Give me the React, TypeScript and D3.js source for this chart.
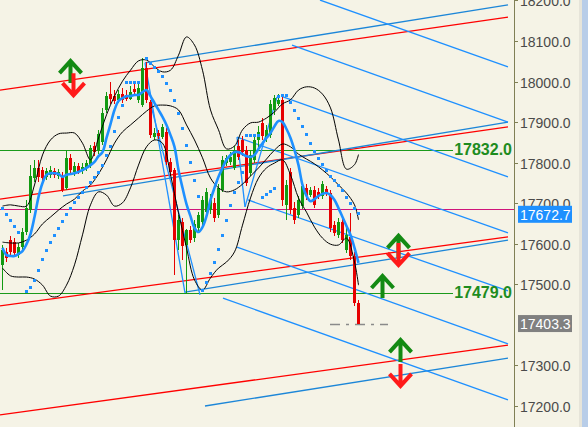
import * as d3 from 'd3'

// ---- data ----
// candles: open, high, low, close
const candles: [number, number, number, number][] = [
  [17548, 17597, 17486, 17585], [17580, 17590, 17555, 17565], [17609, 17619, 17570, 17580],
  [17604, 17614, 17567, 17577], [17572, 17602, 17565, 17592], [17592, 17639, 17585, 17629],
  [17629, 17708, 17622, 17688], [17683, 17794, 17676, 17767], [17762, 17807, 17752, 17787],
  [17787, 17807, 17752, 17765], [17782, 17789, 17752, 17762], [17765, 17787, 17757, 17779],
  [17770, 17792, 17762, 17782], [17779, 17787, 17762, 17770], [17767, 17784, 17760, 17777],
  [17767, 17777, 17728, 17733], [17738, 17831, 17733, 17812], [17812, 17821, 17770, 17782],
  [17777, 17802, 17767, 17792], [17792, 17799, 17772, 17779], [17779, 17799, 17772, 17789],
  [17787, 17807, 17779, 17799], [17794, 17844, 17787, 17836], [17841, 17851, 17816, 17826],
  [17831, 17881, 17821, 17871], [17851, 17935, 17844, 17922], [17930, 17974, 17922, 17964],
  [17969, 17999, 17945, 17957], [17964, 17979, 17945, 17952], [17955, 17979, 17947, 17969],
  [17969, 17984, 17947, 17955], [17967, 17979, 17952, 17957], [17957, 17989, 17955, 17974],
  [17982, 17994, 17967, 17974], [17955, 17994, 17947, 17984], [17942, 18058, 17937, 18033],
  [18033, 18048, 17947, 17955], [17950, 17955, 17861, 17868], [17863, 17885, 17856, 17873],
  [17873, 17881, 17858, 17866], [17863, 17895, 17858, 17888], [17876, 17885, 17794, 17802],
  [17802, 17812, 17767, 17777], [17782, 17787, 17523, 17609], [17609, 17671, 17585, 17659],
  [17654, 17664, 17560, 17595], [17597, 17636, 17479, 17634], [17634, 17644, 17602, 17609],
  [17614, 17659, 17604, 17649], [17639, 17678, 17629, 17671], [17654, 17718, 17644, 17708],
  [17678, 17738, 17669, 17728], [17683, 17723, 17673, 17708], [17701, 17713, 17654, 17664],
  [17671, 17747, 17664, 17738], [17733, 17816, 17728, 17807], [17799, 17819, 17792, 17812],
  [17802, 17826, 17794, 17814], [17787, 17841, 17782, 17831], [17841, 17856, 17807, 17814],
  [17856, 17866, 17816, 17826], [17831, 17841, 17742, 17750], [17775, 17831, 17767, 17819],
  [17807, 17866, 17799, 17856], [17856, 17890, 17836, 17876], [17898, 17910, 17856, 17866],
  [17861, 17893, 17851, 17881], [17868, 17955, 17861, 17945], [17930, 17967, 17918, 17959],
  [17945, 17969, 17940, 17955], [17955, 17964, 17693, 17708], [17696, 17757, 17659, 17745],
  [17777, 17787, 17673, 17683], [17688, 17703, 17649, 17659], [17671, 17718, 17664, 17708],
  [17693, 17750, 17686, 17742], [17738, 17747, 17708, 17718], [17720, 17740, 17715, 17733],
  [17733, 17743, 17688, 17696], [17728, 17738, 17710, 17718], [17718, 17755, 17710, 17747],
  [17735, 17743, 17718, 17723], [17725, 17733, 17629, 17639], [17646, 17656, 17619, 17627],
  [17622, 17664, 17614, 17654], [17654, 17664, 17602, 17609], [17585, 17639, 17577, 17622],
  [17617, 17676, 17560, 17570], [17570, 17580, 17447, 17454], [17454, 17461, 17403, 17403.3],
]

// moving average, one value per bar
const maValues = [
  17590, 17572, 17570, 17570, 17575, 17582, 17599, 17624, 17666, 17715,
  17750, 17770, 17774, 17774, 17772, 17765, 17770, 17772, 17774, 17777,
  17782, 17787, 17794, 17802, 17816, 17826, 17861, 17895, 17930, 17952,
  17959, 17964, 17964, 17967, 17967, 17974, 17979, 17964, 17947, 17930,
  17913, 17893, 17868, 17839, 17782, 17738, 17698, 17668, 17639, 17629,
  17641, 17668, 17708, 17738, 17765, 17787, 17807, 17819, 17826, 17826,
  17821, 17816, 17814, 17819, 17834, 17848, 17861, 17873, 17890, 17903,
  17900, 17883, 17861, 17831, 17794, 17745, 17718, 17705, 17710, 17718,
  17723, 17725, 17720, 17708, 17688, 17666, 17644, 17622, 17590, 17553,
]

// bollinger bands, [bar, price]
const bandUpper: [number, number][] = [
  [0, 17693], [2, 17696], [4, 17693], [6, 17693], [8, 17745], [10, 17819], [12, 17856], [14, 17871],
  [16, 17873], [18, 17873], [20, 17848], [22, 17807], [24, 17861], [26, 17918], [28, 17964], [30, 18001],
  [32, 18028], [34, 18051], [36, 18053], [38, 18036], [40, 18024], [42, 18028], [44, 18065], [46, 18110],
  [48, 18090], [50, 18028], [52, 17930], [54, 17881], [56, 17834], [58, 17841], [60, 17881], [62, 17898],
  [64, 17900], [66, 17910], [68, 17925], [70, 17945], [72, 17955], [74, 17979], [76, 17987], [78, 17984],
  [80, 17969], [82, 17935], [84, 17856], [86, 17784], [88, 17795], [89, 17820],
]
const bandMiddle: [number, number][] = [
  [0, 17604], [2, 17602], [4, 17602], [6, 17609], [8, 17624], [10, 17649], [12, 17666], [14, 17683],
  [16, 17698], [18, 17710], [20, 17730], [22, 17745], [24, 17772], [26, 17807], [28, 17848], [30, 17876],
  [32, 17893], [34, 17910], [36, 17927], [38, 17940], [40, 17942], [42, 17940], [44, 17930], [46, 17893],
  [48, 17856], [50, 17812], [52, 17762], [54, 17738], [56, 17728], [58, 17733], [60, 17747], [62, 17767],
  [64, 17787], [66, 17809], [68, 17831], [70, 17846], [72, 17839], [74, 17821], [76, 17809], [78, 17797],
  [80, 17782], [82, 17765], [84, 17745], [86, 17725], [88, 17696], [89, 17659],
]
const bandLower: [number, number][] = [
  [0, 17540], [2, 17521], [4, 17518], [6, 17518], [8, 17513], [10, 17498], [12, 17471], [14, 17471],
  [16, 17498], [18, 17548], [20, 17622], [22, 17696], [24, 17728], [26, 17720], [28, 17693], [30, 17701],
  [32, 17738], [34, 17794], [36, 17839], [38, 17856], [40, 17848], [42, 17770], [44, 17676], [46, 17590],
  [48, 17511], [50, 17486], [52, 17516], [54, 17540], [56, 17555], [58, 17580], [60, 17646], [62, 17713],
  [64, 17762], [66, 17787], [68, 17799], [70, 17807], [72, 17770], [74, 17713], [76, 17678], [78, 17641],
  [80, 17614], [82, 17599], [84, 17597], [86, 17614], [88, 17555], [89, 17498],
]

// parabolic SAR dots, [bar, price]
const sarDots: [number, number][] = [
  [0, 17688], [1, 17673], [2, 17659], [3, 17644], [4, 17629],
  [6, 17484], [7, 17493], [8, 17511], [9, 17535], [10, 17562], [11, 17585], [12, 17604], [13, 17622],
  [14, 17639], [15, 17656], [16, 17673], [17, 17688], [18, 17703], [19, 17715], [20, 17728], [21, 17740],
  [22, 17753], [23, 17765], [24, 17777], [25, 17794], [26, 17819], [27, 17841], [28, 17878], [29, 17913],
  [30, 17942], [31, 17999], [32, 17999], [33, 17999], [34, 17999],
  [36, 18058], [37, 18046], [38, 18036], [39, 18026], [40, 18014], [41, 17996], [42, 17979], [43, 17955],
  [44, 17922], [45, 17885], [46, 17844], [47, 17802], [48, 17757], [49, 17718],
  [50, 17486], [51, 17506], [52, 17528], [53, 17555], [54, 17587], [55, 17622], [56, 17659], [57, 17696],
  [58, 17728], [59, 17752], [60, 17777], [61, 17868], [62, 17868], [63, 17868], [64, 17868],
  [65, 17715], [66, 17723], [67, 17730], [68, 17737], [69, 17964], [70, 17967], [71, 17967],
  [72, 17950], [73, 17930], [74, 17910], [75, 17890], [76, 17871], [77, 17849], [78, 17829], [79, 17811],
  [80, 17797], [81, 17782], [82, 17767], [83, 17757], [84, 17745], [85, 17733], [86, 17715], [87, 17701],
  [88, 17688], [89, 17676],
]

// trend lines: bar1, price1, bar2, price2
const redChannel = [
  [-0.5, 17979, 126.5, 18159], [-0.5, 17710, 126.5, 17888],
  [-0.5, 17447, 126.5, 17617], [-0.5, 17178, 126.5, 17350],
]
const blueChannel = [
  [35.75, 18046, 126.5, 18189], [15.25, 17718, 126.5, 17900],
  [45.75, 17481, 126.5, 17609], [50.75, 17200, 126.5, 17318],
]
const blueFan = [
  [79.5, 18201, 126.5, 18036], [72.5, 18090, 126.5, 17900], [70.25, 17962, 126.5, 17765],
  [58.75, 17863, 126.5, 17627], [61.5, 17708, 126.5, 17484], [58.75, 17592, 126.5, 17353],
  [55.25, 17466, 126.5, 17215],
]
const zigzag = [
  [35.75, 18046, 45.75, 17479], [37, 17950, 49.5, 17474],
  [58.75, 17863, 60.75, 17691], [60.75, 17691, 68.75, 17962],
]

const levelLines = [17832, 17479]
const pinkLevel = 17686
const bidPrice = 17672.7
const lastPrice = 17403.3
// 17400.0 sits fully under the last-price box in the chart, so it is not listed
const priceTicks = [17200, 17300, 17500, 17600, 17700, 17800, 17900, 18000, 18100, 18200]

const upArrows: [number, number][] = [[17, 18058], [99, 17627], [95, 17528], [99.5, 17370]]
const downArrows: [number, number][] = [[17.75, 17959], [99, 17540], [99.5, 17242]]

// ---- layout ----
const W = 588
const H = 427
const AXIS_X = 514
const BG = '#F5F3E6'
const GREEN = '#129a12'
const RED = '#e60000'

const x = d3.scaleLinear().domain([0, 128]).range([2, 514])
const y = d3.scaleLinear().domain([17200, 18100]).range([406, 41])

const band = d3.line<[number, number]>()
  .x(d => x(d[0]) + 0.5)
  .y(d => y(d[1]))
  .curve(d3.curveCatmullRom)

const ma = d3.line<number>()
  .x((_, i) => x(i) + 0.5)
  .y(d => y(d))
  .curve(d3.curveCatmullRom)

function TrendLines({ lines, color }: { lines: number[][]; color: string }) {
  return (
    <g stroke={color} strokeWidth={1.3} fill="none">
      {lines.map((l, i) => (
        <line key={i} x1={x(l[0])} y1={y(l[1])} x2={x(l[2])} y2={y(l[3])} />
      ))}
    </g>
  )
}

function Arrow({ bar, price, up, color }: { bar: number; price: number; up: boolean; color: string }) {
  const s = up ? 1 : -1
  const cx = x(bar) + 0.5
  const ty = y(price) + s * 3
  const d = `M${cx - 11},${ty + s * 12} L${cx},${ty} L${cx + 11},${ty + s * 12} M${cx},${ty} L${cx},${ty + s * 22}`
  return <path d={d} fill="none" stroke={color} strokeWidth={4} strokeLinejoin="miter" />
}

export default function App() {
  return (
    <div style={{ position: 'absolute', left: 0, top: 0 }}>
      <svg width={W} height={H} style={{ display: 'block', fontFamily: '"Liberation Sans", Arial, sans-serif' }}>
        <defs>
          <clipPath id="plot">
            <rect x={0} y={0} width={AXIS_X} height={H} />
          </clipPath>
        </defs>
        <rect x={0} y={0} width={W} height={H} fill={BG} />
        <rect x={579} y={0} width={3} height={H} fill="#e6e4d9" />
        <rect x={582} y={0} width={6} height={H} fill="#b8cde8" />

        <g clipPath="url(#plot)">
          {/* horizontal levels */}
          <line x1={0} x2={AXIS_X} y1={Math.round(y(pinkLevel)) + 0.5} y2={Math.round(y(pinkLevel)) + 0.5} stroke="#d0147a" />
          {levelLines.map(p => (
            <line key={p} x1={0} x2={x(112.75)} y1={Math.round(y(p)) + 0.5} y2={Math.round(y(p)) + 0.5} stroke="#1a9a1a" />
          ))}

          <TrendLines lines={redChannel} color="#ff0000" />
          <TrendLines lines={blueChannel} color="#1c86d8" />
          <TrendLines lines={blueFan} color="#1e90ff" />
          <TrendLines lines={zigzag} color="#1e90ff" />

          {/* last price dashed marker */}
          <line x1={x(82)} x2={x(96.5)} y1={Math.round(y(lastPrice)) + 0.5} y2={Math.round(y(lastPrice)) + 0.5}
            stroke="#8a8a8a" strokeWidth={1.5} strokeDasharray="10,6,3,6" />

          {/* candles */}
          <g shapeRendering="crispEdges">
            {candles.map(([o, h, l, c], i) => {
              const cx = Math.round(x(i))
              const col = c >= o ? GREEN : RED
              const top = Math.round(y(Math.max(o, c)))
              const bot = Math.round(y(Math.min(o, c)))
              const hy = Math.round(y(h))
              const ly = Math.round(y(l))
              return (
                <g key={i} fill={col}>
                  <rect x={cx} y={hy} width={1} height={Math.max(1, ly - hy)} />
                  <rect x={cx - 1} y={top} width={3} height={Math.max(1, bot - top)} />
                </g>
              )
            })}
          </g>

          {/* bands */}
          <g fill="none" stroke="#000" strokeWidth={1}>
            <path d={band(bandUpper) ?? ''} />
            <path d={band(bandMiddle) ?? ''} />
            <path d={band(bandLower) ?? ''} />
          </g>

          {/* moving average */}
          <path d={ma(maValues) ?? ''} fill="none" stroke="#1e90ff" strokeWidth={2.6} />

          {/* SAR */}
          <g fill="#1e90ff" shapeRendering="crispEdges">
            {sarDots.map(([b, p], i) => (
              <rect key={i} x={Math.round(x(b)) - 1} y={Math.round(y(p)) - 1} width={3} height={3} />
            ))}
          </g>

          {/* arrows */}
          {upArrows.map(([b, p], i) => <Arrow key={'u' + i} bar={b} price={p} up color="#138a13" />)}
          {downArrows.map(([b, p], i) => <Arrow key={'d' + i} bar={b} price={p} up={false} color="#ff1a1a" />)}

          {/* level labels */}
          {levelLines.map(p => (
            <text key={p} x={512} y={y(p)} textAnchor="end" dominantBaseline="central"
              fontSize={16} fontWeight="bold" fill="#1e8c1e">{p.toFixed(1)}</text>
          ))}
        </g>

        {/* price axis */}
        <line x1={AXIS_X + 0.5} x2={AXIS_X + 0.5} y1={0} y2={H} stroke="#7f7f55" />
        {priceTicks.map(t => (
          <g key={t}>
            <line x1={AXIS_X} x2={AXIS_X + 4} y1={Math.round(y(t)) + 0.5} y2={Math.round(y(t)) + 0.5} stroke="#7f7f55" />
            <text x={520} y={y(t) + 1} dominantBaseline="central" fontSize={14} fill="#4a4a4a">{t.toFixed(1)}</text>
          </g>
        ))}

        <rect x={518} y={y(bidPrice) - 8.5} width={54} height={17} fill="#1e90ff" />
        <text x={520} y={y(bidPrice) + 0.5} dominantBaseline="central" fontSize={14} fill="#fff">{bidPrice.toFixed(1)}</text>
        <rect x={518} y={y(lastPrice) - 8.5} width={54} height={17} fill="#808080" />
        <text x={520} y={y(lastPrice) + 0.5} dominantBaseline="central" fontSize={14} fill="#fff">{lastPrice.toFixed(1)}</text>
      </svg>
    </div>
  )
}
